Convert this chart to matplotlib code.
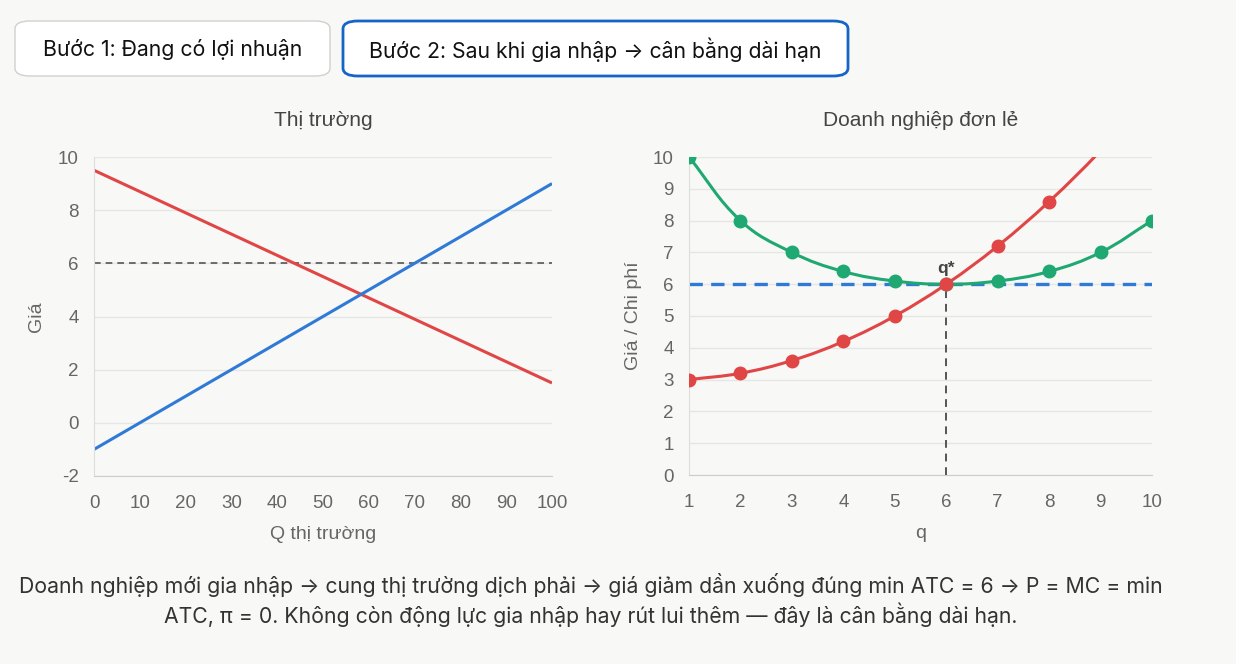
import numpy as np
import matplotlib.pyplot as plt
from matplotlib.patches import FancyBboxPatch, PathPatch
from matplotlib.path import Path

plt.rcParams["axes.unicode_minus"] = False

# Thị trường: cung / cầu
market_q = [0, 10, 20, 30, 40, 50, 60, 70, 80, 90, 100]
demand = [9.5, 8.7, 7.9, 7.1, 6.3, 5.5, 4.7, 3.9, 3.1, 2.3, 1.5]
supply = [-1, 0, 1, 2, 3, 4, 5, 6, 7, 8, 9]
market_price = 6

# Doanh nghiệp đơn lẻ
firm_q = [1, 2, 3, 4, 5, 6, 7, 8, 9, 10]
atc = [10, 8, 7, 6.4, 6.1, 6, 6.1, 6.4, 7, 8]
mc = [3, 3.2, 3.6, 4.2, 5, 6, 7.2, 8.6, 10.2, 12]
q_star = 6
p_star = 6

buttons = ["Bước 1: Đang có lợi nhuận", "Bước 2: Sau khi gia nhập → cân bằng dài hạn"]
caption = ("Doanh nghiệp mới gia nhập → cung thị trường dịch phải → giá giảm dần xuống đúng min ATC = 6 → P = MC = min\n"
           "ATC, π = 0. Không còn động lực gia nhập hay rút lui thêm — đây là cân bằng dài hạn.")

RED = "#e04646"
BLUE = "#2f7ad6"
GREEN = "#1fa872"
BG = "#f8f8f6"
TICK = "#666666"
UI_FONT = ["Inter", "DejaVu Sans"]
CHART_FONT = ["Liberation Sans", "DejaVu Sans"]


def smooth_path(ax, xs, ys, tension=0.4):
    # kiểu nội suy bezier giống Chart.js, tính trong toạ độ pixel
    pts = ax.transData.transform(np.column_stack([xs, ys]))
    n = len(pts)
    verts = [pts[0]]
    codes = [Path.MOVETO]
    ctrl = []
    for i in range(n):
        prev = pts[max(i - 1, 0)]
        cur = pts[i]
        nxt = pts[min(i + 1, n - 1)]
        d01 = np.hypot(*(cur - prev))
        d12 = np.hypot(*(nxt - cur))
        tot = d01 + d12
        s01 = d01 / tot if tot else 0
        s12 = d12 / tot if tot else 0
        ctrl.append((cur - tension * s01 * (nxt - prev), cur + tension * s12 * (nxt - prev)))
    for i in range(1, n):
        verts += [ctrl[i - 1][1], ctrl[i][0], pts[i]]
        codes += [Path.CURVE4] * 3
    verts = ax.transData.inverted().transform(np.array(verts))
    return Path(verts, codes)


def style_axes(ax):
    ax.set_facecolor(BG)
    for s in ["top", "right"]:
        ax.spines[s].set_visible(False)
    ax.spines["left"].set_color("#dddddd")
    ax.spines["bottom"].set_color("#cccccc")
    ax.grid(axis="y", color="#e6e6e4", linewidth=1)
    ax.set_axisbelow(True)
    ax.tick_params(length=0, labelsize=13.5, colors=TICK)
    ax.tick_params(axis="x", pad=14)
    ax.tick_params(axis="y", pad=11)
    for lab in ax.get_xticklabels() + ax.get_yticklabels():
        lab.set_family(CHART_FONT)


fig = plt.figure(figsize=(12.36, 6.64), dpi=100, facecolor=BG)

# nút bấm
btn_boxes = [(15, 21, 315, 55, "#d0d0d0", 1.0), (343, 21, 505, 55, "#1565c8", 2.0)]
for (x, y, w, h, ec, lw), label in zip(btn_boxes, buttons):
    patch = FancyBboxPatch((x / 1236, 1 - (y + h) / 664), w / 1236, h / 664,
                           boxstyle="round,pad=0,rounding_size=0.012",
                           transform=fig.transFigure, facecolor="white", edgecolor=ec, linewidth=lw)
    fig.add_artist(patch)
    fig.text((x + w / 2) / 1236, 1 - (y + h / 2 + 1.5) / 664, label, ha="center", va="center",
             fontsize=15.3, color="#111111", family=UI_FONT)

# biểu đồ thị trường
ax1 = fig.add_axes([94 / 1236, 1 - 476 / 664, 458 / 1236, 319 / 664])
ax1.set_xlim(0, 100)
ax1.set_ylim(-2, 10)
ax1.set_xticks(market_q)
ax1.set_yticks(range(-2, 11, 2))
style_axes(ax1)
ax1.axhline(market_price, color="#555555", linewidth=1.2, linestyle=(0, (4, 3)))
ax1.plot(market_q, demand, color=RED, linewidth=2.2, solid_capstyle="butt")
ax1.plot(market_q, supply, color=BLUE, linewidth=2.2, solid_capstyle="butt")
ax1.set_title("Thị trường", fontsize=15, color="#444444", pad=22, family=CHART_FONT)
ax1.set_xlabel("Q thị trường", fontsize=14, color=TICK, labelpad=10, family=CHART_FONT)
ax1.set_ylabel("Giá", fontsize=14, color=TICK, labelpad=9, family=CHART_FONT)

# biểu đồ doanh nghiệp
ax2 = fig.add_axes([689 / 1236, 1 - 475 / 664, 463 / 1236, 318 / 664])
ax2.set_xlim(1, 10)
ax2.set_ylim(0, 10)
ax2.set_xticks(firm_q)
ax2.set_yticks(range(0, 11))
style_axes(ax2)
ax2.plot([firm_q[0], firm_q[-1]], [p_star, p_star], color=BLUE, linewidth=2.4,
         linestyle=(0, (4, 2.5)), zorder=2)
ax2.plot([q_star, q_star], [0, p_star], color="#555555", linewidth=1.4,
         linestyle=(0, (4, 3)), zorder=2)
for ys, col in [(atc, GREEN), (mc, RED)]:
    path = smooth_path(ax2, firm_q, ys)
    ax2.add_patch(PathPatch(path, facecolor="none", edgecolor=col, linewidth=2.2, zorder=3))
    shown = [(q, v) for q, v in zip(firm_q, ys) if v <= 10]
    ax2.plot([p[0] for p in shown], [p[1] for p in shown], linestyle="none", marker="o",
             markersize=9, color=col, zorder=4)
ax2.text(q_star, p_star + 0.25, "q*", ha="center", va="bottom", fontsize=12.5,
         fontweight="bold", color="#444444", family=CHART_FONT)
ax2.set_title("Doanh nghiệp đơn lẻ", fontsize=15, color="#444444", pad=22, family=CHART_FONT)
ax2.set_xlabel("q", fontsize=14, color=TICK, labelpad=10, family=CHART_FONT)
ax2.set_ylabel("Giá / Chi phí", fontsize=14, color=TICK, labelpad=8, family=CHART_FONT)

fig.text(591 / 1236, 1 - 600 / 664, caption, ha="center", va="center", fontsize=15.3,
         color="#333333", family=UI_FONT, linespacing=1.3)

fig.savefig("out.png", dpi=100, facecolor=BG)
